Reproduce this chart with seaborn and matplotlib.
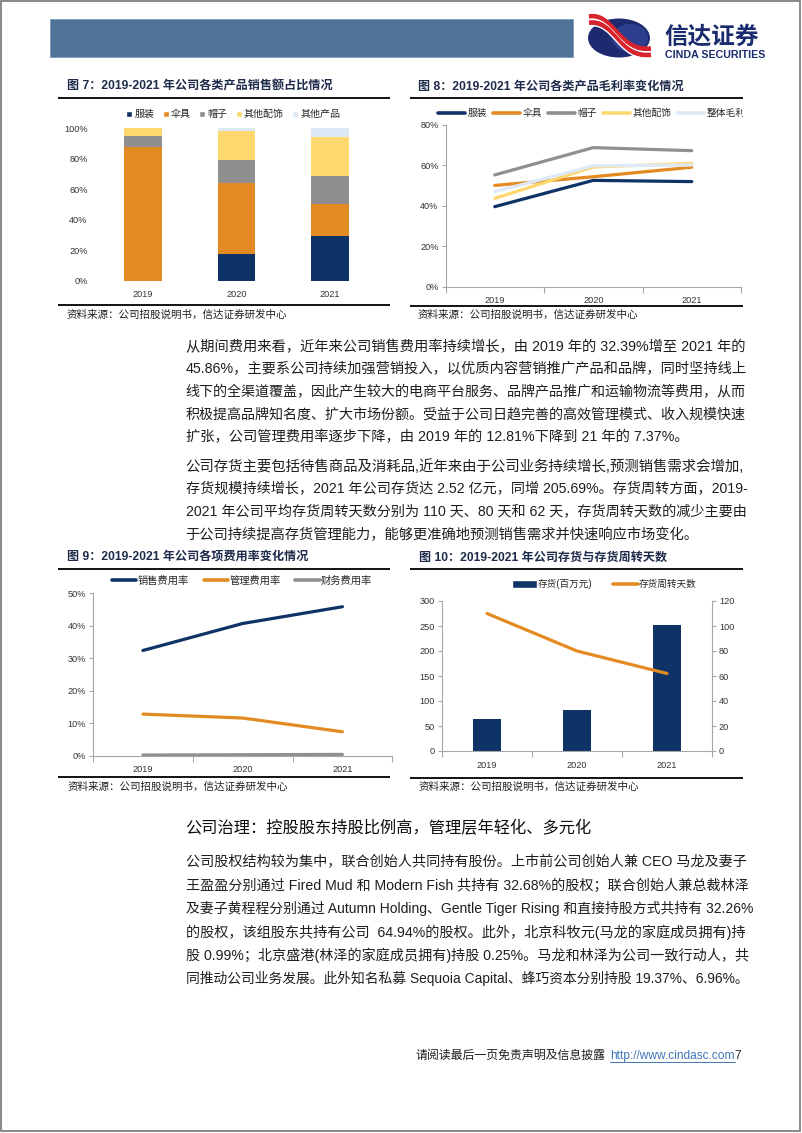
import numpy as np
import pandas as pd
import matplotlib
matplotlib.use('Agg')
import matplotlib.pyplot as plt
import seaborn as sns
from matplotlib.patches import Rectangle, Ellipse, Patch, PathPatch
from matplotlib.lines import Line2D
from matplotlib.path import Path
from matplotlib.transforms import Bbox, TransformedBbox

# ---------------- data ----------------
years = ['2019', '2020', '2021']

# Fig 7: sales share by product (%)
sales_labels = ['服装', '伞具', '帽子', '其他配饰', '其他产品']
share_apparel = [0.0, 17.3, 29.3]
share_umbrella = [88.0, 46.6, 21.0]
share_hat = [7.0, 15.3, 18.6]
share_accessory = [5.0, 19.0, 25.6]
share_other = [0.0, 1.8, 5.5]

# Fig 8: gross margin by product (%)
margin_labels = ['服装', '伞具', '帽子', '其他配饰', '整体毛利率']
margin_apparel = [39.6, 52.6, 52.0]
margin_umbrella = [50.1, 54.4, 59.1]
margin_hat = [55.3, 68.8, 67.3]
margin_accessory = [43.7, 59.2, 61.0]
margin_overall = [47.0, 59.8, 60.2]

# Fig 9: expense ratios (%)
expense_labels = ['销售费用率', '管理费用率', '财务费用率']
selling_ratio = [32.39, 40.7, 45.86]
admin_ratio = [12.81, 11.6, 7.37]
finance_ratio = [0.2, 0.3, 0.4]

# Fig 10: inventory and turnover days
inventory_labels = ['存货(百万元)', '存货周转天数']
inventory = [65, 82, 252]
turnover_days = [110, 80, 62]

y7_ticks = [0, 20, 40, 60, 80, 100]
y8_ticks = [0, 20, 40, 60, 80]
y9_ticks = [0, 10, 20, 30, 40, 50]
y10_left_ticks = [0, 50, 100, 150, 200, 250, 300]
y10_right_ticks = [0, 20, 40, 60, 80, 100, 120]

para1 = [
    '从期间费用来看，近年来公司销售费用率持续增长，由 2019 年的 32.39%增至 2021 年的',
    '45.86%，主要系公司持续加强营销投入，以优质内容营销推广产品和品牌，同时坚持线上',
    '线下的全渠道覆盖，因此产生较大的电商平台服务、品牌产品推广和运输物流等费用，从而',
    '积极提高品牌知名度、扩大市场份额。受益于公司日趋完善的高效管理模式、收入规模快速',
    '扩张，公司管理费用率逐步下降，由 2019 年的 12.81%下降到 21 年的 7.37%。',
]
para2 = [
    '公司存货主要包括待售商品及消耗品,近年来由于公司业务持续增长,预测销售需求会增加,',
    '存货规模持续增长，2021 年公司存货达 2.52 亿元，同增 205.69%。存货周转方面，2019-',
    '2021 年公司平均存货周转天数分别为 110 天、80 天和 62 天，存货周转天数的减少主要由',
    '于公司持续提高存货管理能力，能够更准确地预测销售需求并快速响应市场变化。',
]
heading = '公司治理：控股股东持股比例高，管理层年轻化、多元化'
para3 = [
    '公司股权结构较为集中，联合创始人共同持有股份。上市前公司创始人兼 CEO 马龙及妻子',
    '王盈盈分别通过 Fired Mud 和 Modern Fish 共持有 32.68%的股权；联合创始人兼总裁林泽',
    '及妻子黄程程分别通过 Autumn Holding、Gentle Tiger Rising 和直接持股方式共持有 32.26%',
    '的股权，该组股东共持有公司  64.94%的股权。此外，北京科牧元(马龙的家庭成员拥有)持',
    '股 0.99%；北京盛港(林泽的家庭成员拥有)持股 0.25%。马龙和林泽为公司一致行动人，共',
    '同推动公司业务发展。此外知名私募 Sequoia Capital、蜂巧资本分别持股 19.37%、6.96%。',
]

# ---------------- style ----------------
W, H = 802, 1133
sns.set_style('ticks')
plt.rcParams['font.family'] = ['Liberation Sans', 'Noto Sans CJK SC']
plt.rcParams['axes.unicode_minus'] = False

NAVY = '#0f3366'
ORANGE = '#e38b22'
GRAY = '#8f8f8f'
YELLOW = '#fed86f'
PALE = '#dde9f6'
TITLE_C = '#1e2b4a'
SPINE = '#a6a6a6'
TICK_C = '#333333'
TXT = '#1e1e1e'

fig = plt.figure(figsize=(W / 100, H / 100), dpi=100)
fig.patch.set_facecolor('white')
renderer = fig.canvas.get_renderer()


def fx(x):
    return x / W


def fy(y):
    return 1 - y / H


def rect(x0, y0, x1, y1):
    return [x0 / W, 1 - y1 / H, (x1 - x0) / W, (y1 - y0) / H]


def hline(x0, x1, y, color='black', lw=1.2):
    fig.add_artist(Line2D([fx(x0), fx(x1)], [fy(y), fy(y)], transform=fig.transFigure,
                          color=color, lw=lw, solid_capstyle='butt'))


# page border
fig.add_artist(Rectangle((fx(1), fy(1131)), (799) / W, (1130) / H, transform=fig.transFigure,
                         fill=False, edgecolor='#808080', lw=1.3))

# header bar
fig.add_artist(Rectangle((fx(50), fy(57)), (573 - 50) / W, (57 - 19) / H, transform=fig.transFigure,
                         facecolor='#4e7298', edgecolor='#7f9cbb', lw=0.6))

# logo
def P(x, y):
    return (fx(x), fy(y))

fig.add_artist(Ellipse(P(619, 38), 62 / W, 39 / H, transform=fig.transFigure,
                       facecolor='#1d2a70', edgecolor='none'))
fig.add_artist(Ellipse(P(630, 38), 36 / W, 28 / H, transform=fig.transFigure,
                       facecolor='#3c50a8', edgecolor='none', alpha=0.55))
for dy, col, lw in [(-4.5, '#d8232c', 3.4), (-1.3, 'white', 1.2), (1.8, '#d8232c', 3.4), (5, 'white', 1.0)]:
    verts = [P(589, 21 + dy), P(614, 17 + dy), P(618, 57 + dy), P(651, 53 + dy)]
    path = Path(verts, [Path.MOVETO, Path.CURVE4, Path.CURVE4, Path.CURVE4])
    fig.add_artist(PathPatch(path, transform=fig.transFigure, facecolor='none', edgecolor=col,
                             lw=lw, capstyle='butt'))
fig.text(fx(664), fy(43.5), '信达证券', fontsize=17, fontweight='bold', color='#1b2c6e',
         ha='left', va='baseline')
fig.text(fx(665), fy(49.8), 'CINDA SECURITIES', fontsize=7.7, fontweight='bold', color='#1b2c6e',
         ha='left', va='top')

# ---------------- panel frames ----------------
SRC = '资料来源：公司招股说明书，信达证券研发中心'


def panel(title, tx, ty, rx0, rx1, ry_top, ry_bot, sx, sy):
    fig.text(fx(tx), fy(ty), title, fontsize=8.7, fontweight='bold', color=TITLE_C,
             ha='left', va='center')
    hline(rx0, rx1, ry_top, lw=1.3)
    hline(rx0, rx1, ry_bot, lw=1.3)
    fig.text(fx(sx), fy(sy), SRC, fontsize=7.6, color='#222222', ha='left', va='center')


panel('图 7：2019-2021 年公司各类产品销售额占比情况', 67, 86.5, 58, 390, 97.5, 305, 67, 314.5)
panel('图 8：2019-2021 年公司各类产品毛利率变化情况', 418, 86.5, 410, 743, 97.5, 305.5, 418, 314.5)
panel('图 9：2019-2021 年公司各项费用率变化情况', 67, 557, 58, 390, 569, 777, 68, 787)
panel('图 10：2019-2021 年公司存货与存货周转天数', 419, 557.5, 410, 743, 569, 778, 419, 787)


def style_axis(ax, left=True, bottom=True):
    for s in ['top', 'right']:
        ax.spines[s].set_visible(False)
    ax.spines['left'].set_visible(left)
    ax.spines['bottom'].set_visible(bottom)
    for s in ['left', 'bottom']:
        ax.spines[s].set_color(SPINE)
        ax.spines[s].set_linewidth(0.8)
    ax.set_xlabel('')
    ax.set_ylabel('')
    ax.set_facecolor('none')


def cat_ticks(ax):
    ax.set_xticks([0, 1, 2])
    ax.set_xticklabels(years)
    ax.set_xticks([-0.5, 0.5, 1.5, 2.5], minor=True)
    ax.tick_params(axis='x', which='major', length=0, pad=7, labelsize=6.6, labelcolor=TICK_C)
    ax.tick_params(axis='x', which='minor', length=4, width=0.8, color=SPINE, bottom=True)


# ---------------- Fig 7: stacked bars ----------------
ax7 = fig.add_axes(rect(96, 128.3, 377, 280.7))
df7 = pd.DataFrame({'year': years, '服装': share_apparel, '伞具': share_umbrella,
                    '帽子': share_hat, '其他配饰': share_accessory, '其他产品': share_other})
colors7 = [NAVY, ORANGE, GRAY, YELLOW, PALE]
base = np.zeros(len(years))
for lab, col in zip(sales_labels, colors7):
    sns.barplot(data=df7, x='year', y=lab, ax=ax7, color=col, saturation=1, width=0.4,
                errorbar=None, bottom=base.copy(), linewidth=0)
    base += df7[lab].to_numpy()
ax7.set_xlim(-0.5, 2.5)
ax7.set_ylim(0, 100)
ax7.set_yticks(y7_ticks)
ax7.set_yticklabels([f'{v}%' for v in y7_ticks])
style_axis(ax7, False, False)
ax7.tick_params(axis='both', length=0, labelsize=6.6, labelcolor=TICK_C)
ax7.tick_params(axis='y', pad=6)
ax7.tick_params(axis='x', pad=7)
ax7.legend([Patch(facecolor=c) for c in colors7], sales_labels, loc='center left',
           bbox_to_anchor=(fx(126), fy(114.3)), bbox_transform=fig.transFigure, ncol=5,
           frameon=False, fontsize=7.2, handlelength=0.6, handleheight=0.6,
           handletextpad=0.25, columnspacing=0.8, borderpad=0, borderaxespad=0)

# ---------------- Fig 8: margin lines ----------------
ax8 = fig.add_axes(rect(445.5, 125, 741, 286.7))
df8 = pd.DataFrame({'year': years, '服装': margin_apparel, '伞具': margin_umbrella,
                    '帽子': margin_hat, '其他配饰': margin_accessory, '整体毛利率': margin_overall})
colors8 = [NAVY, ORANGE, GRAY, YELLOW, PALE]
for lab, col in zip(margin_labels, colors8):
    sns.lineplot(data=df8, x='year', y=lab, ax=ax8, color=col, linewidth=2.3,
                 errorbar=None, legend=False, sort=False)
ax8.set_xlim(-0.5, 2.5)
ax8.set_ylim(0, 80)
ax8.set_yticks(y8_ticks)
ax8.set_yticklabels([f'{v}%' for v in y8_ticks])
style_axis(ax8)
cat_ticks(ax8)
ax8.tick_params(axis='y', length=3, width=0.8, color=SPINE, labelsize=6.6, labelcolor=TICK_C,
                pad=2, left=True)
leg8 = ax8.legend([Line2D([], [], color=c, lw=2.6) for c in colors8], margin_labels,
                  loc='center left', bbox_to_anchor=(fx(438), fy(113.3)),
                  bbox_transform=fig.transFigure, ncol=5, frameon=False, fontsize=7,
                  handlelength=2.75, handletextpad=0.3, columnspacing=0.6,
                  borderpad=0, borderaxespad=0)
clip8 = TransformedBbox(Bbox.from_extents(fx(400), fy(130), fx(743), fy(100)), fig.transFigure)
for t in leg8.get_texts():
    t.set_clip_box(clip8)
    t.set_clip_on(True)

# ---------------- Fig 9: expense ratio lines ----------------
ax9 = fig.add_axes(rect(93, 593.3, 392.3, 755.7))
df9 = pd.DataFrame({'year': years, '销售费用率': selling_ratio, '管理费用率': admin_ratio,
                    '财务费用率': finance_ratio})
colors9 = [NAVY, ORANGE, GRAY]
for lab, col in zip(expense_labels, colors9):
    sns.lineplot(data=df9, x='year', y=lab, ax=ax9, color=col, linewidth=2.3,
                 errorbar=None, legend=False, sort=False)
ax9.set_xlim(-0.5, 2.5)
ax9.set_ylim(0, 50)
ax9.set_yticks(y9_ticks)
ax9.set_yticklabels([f'{v}%' for v in y9_ticks])
style_axis(ax9)
cat_ticks(ax9)
ax9.tick_params(axis='y', length=3, width=0.8, color=SPINE, labelsize=6.6, labelcolor=TICK_C,
                pad=2, left=True)
ax9.legend([Line2D([], [], color=c, lw=2.6) for c in colors9], expense_labels,
           loc='center left', bbox_to_anchor=(fx(111.7), fy(581)),
           bbox_transform=fig.transFigure, ncol=3, frameon=False, fontsize=7.4,
           handlelength=2.4, handletextpad=0.1, columnspacing=1.45,
           borderpad=0, borderaxespad=0)

# ---------------- Fig 10: inventory bars + turnover line ----------------
ax10 = fig.add_axes(rect(442, 601, 712, 751))
df10 = pd.DataFrame({'year': years, 'inventory': inventory, 'days': turnover_days})
sns.barplot(data=df10, x='year', y='inventory', ax=ax10, color=NAVY, saturation=1, width=0.31,
            errorbar=None, linewidth=0)
ax10b = ax10.twinx()
sns.lineplot(data=df10, x='year', y='days', ax=ax10b, color=ORANGE, linewidth=2.3,
             errorbar=None, legend=False, sort=False)
ax10.set_xlim(-0.5, 2.5)
ax10.set_ylim(0, 300)
ax10.set_yticks(y10_left_ticks)
ax10b.set_ylim(0, 120)
ax10b.set_yticks(y10_right_ticks)
style_axis(ax10)
cat_ticks(ax10)
ax10.tick_params(axis='y', length=3, width=0.8, color=SPINE, labelsize=6.6, labelcolor=TICK_C,
                 pad=2, left=True)
for s in ['top', 'left', 'bottom']:
    ax10b.spines[s].set_visible(False)
ax10b.spines['right'].set_color(SPINE)
ax10b.spines['right'].set_linewidth(0.8)
ax10b.set_ylabel('')
ax10b.tick_params(axis='y', length=3, width=0.8, color=SPINE, labelsize=6.6, labelcolor=TICK_C,
                  pad=2, right=True)
ax10b.set_facecolor('none')
ax10b.legend([Patch(facecolor=NAVY), Line2D([], [], color=ORANGE, lw=2.6)], inventory_labels,
             loc='center left', bbox_to_anchor=(fx(511.7), fy(584.3)),
             bbox_transform=fig.transFigure, ncol=2, frameon=False, fontsize=6.9,
             handlelength=2.6, handleheight=0.8, handletextpad=0.15, columnspacing=2.1,
             borderpad=0, borderaxespad=0)

# ---------------- body text ----------------
BODY = 10.3
X0 = 185.5
XR = 744.5


def body_line(y, s, right=None, size=BODY, color=TXT):
    t = fig.text(fx(X0), fy(y), s, ha='left', va='center', fontsize=size, color=color)
    if right is not None:
        w = t.get_window_extent(renderer).width
        f = float(np.clip((right - X0) / w, 0.92, 1.08))
        t.set_fontsize(size * f)
    return t


for i, (y, s) in enumerate(zip([347, 369.5, 392, 414.5, 437], para1)):
    body_line(y, s, right=XR if i < len(para1) - 1 else None)
for i, (y, s) in enumerate(zip([467, 489.5, 512, 534.5], para2)):
    body_line(y, s, right=XR if i < len(para2) - 1 else None)

fig.text(fx(X0), fy(828), heading, ha='left', va='center', fontsize=11.7, color='#0d0d0d')

rights3 = [XR, XR, 751, XR, XR, 747]
for y, s, r in zip([862, 885.3, 908.6, 931.9, 955.2, 978.5], para3, rights3):
    body_line(y, s, right=r)

# ---------------- footer ----------------
ft = fig.text(fx(416), fy(1056), '请阅读最后一页免责声明及信息披露', ha='left', va='center',
              fontsize=8.6, color=TXT)
bb = ft.get_window_extent(renderer)
ut = fig.text((bb.x1 + 4) / W, fy(1056), 'http://www.cindasc.com', ha='left', va='center',
              fontsize=8.6, color='#3f76b8')
bb2 = ut.get_window_extent(renderer)
fig.add_artist(Line2D([bb2.x0 / W, bb2.x1 / W], [(bb2.y0 + 0.5) / H] * 2,
                      transform=fig.transFigure, color='#3f76b8', lw=0.7))
fig.text(bb2.x1 / W, fy(1056), '7', ha='left', va='center', fontsize=8.6, color=TXT)

fig.savefig('out.png', dpi=100, facecolor='white')
